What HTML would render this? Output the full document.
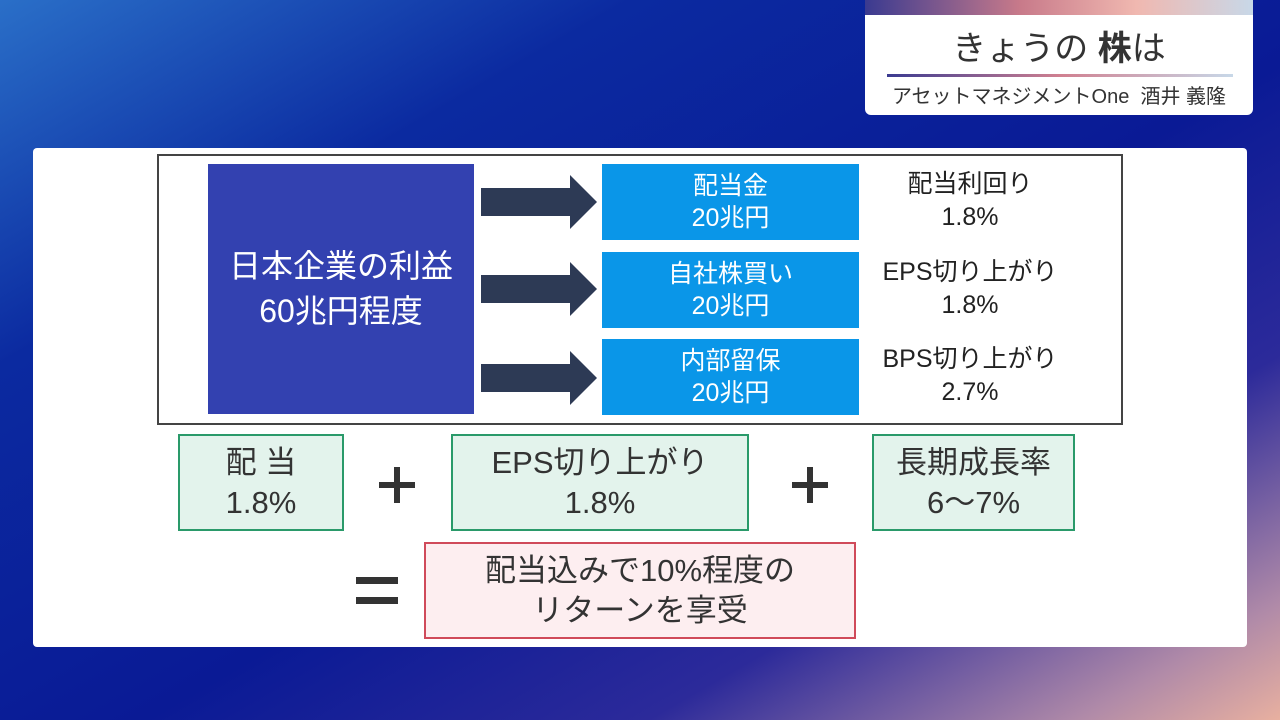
<!DOCTYPE html>
<html><head><meta charset="utf-8"><style>
*{margin:0;padding:0;box-sizing:border-box}
body{width:1280px;height:720px;overflow:hidden;position:relative;font-family:"Liberation Sans","Noto Sans CJK JP",sans-serif;
background:linear-gradient(150deg,#2a6fc8 0%,#0b2aa0 25%,#0a1a95 55%,#2c2a9a 75%,#b08aa8 92%,#e8b0a0 100%);}
.abs{position:absolute}
.card{left:865px;top:0;width:388px;height:115px;background:#fff;border-radius:0 0 6px 6px;overflow:hidden}
.strip{left:0;top:0;width:100%;height:15px;background:linear-gradient(90deg,#3a3a90,#c87a8a 40%,#f0b8b0 70%,#c8d8e8)}
.panel{left:33px;top:148px;width:1214px;height:499px;background:#fff;border-radius:4px}
.c{display:flex;align-items:center;justify-content:center;text-align:center;flex-direction:column}
.lb{left:602px;width:257px;height:76px;background:#0a96e8;color:#fff;font-size:25px;line-height:32px}
.rt{left:880px;width:180px;color:#222;font-size:25px;line-height:33px}
.gb{top:434px;height:97px;background:#e3f3ec;border:2px solid #2a9a6a;color:#333;font-size:31px;line-height:40px}
.arrow{left:481px;width:117px;height:54px}
.ph{width:36px;height:6px;background:#333}
.pv{width:6px;height:36px;background:#333}
</style></head><body>
<div class="abs card">
 <div class="abs strip"></div>
 <div class="abs" style="left:0;width:388px;top:27px;text-align:center;font-size:34px;color:#333;line-height:44px">きょうの <b>株</b>は</div>
 <div class="abs" style="left:22px;top:74px;width:346px;height:3px;background:linear-gradient(90deg,#3a3a90,#d08090 50%,#c8d8e8)"></div>
 <div class="abs" style="left:0;width:388px;top:83px;text-align:center;font-size:20px;color:#333;line-height:28px">アセットマネジメントOne&nbsp;&nbsp;酒井 義隆</div>
</div>
<div class="abs panel"></div>
<div class="abs" style="left:157px;top:154px;width:966px;height:271px;border:2px solid #444"></div>
<div class="abs c" style="left:208px;top:164px;width:266px;height:250px;background:#3341b0;color:#fff;font-size:32px;line-height:45px">日本企業の利益<br>60兆円程度</div>
<svg class="abs arrow" style="top:175px" viewBox="0 0 117 54"><polygon points="0,13 89,13 89,0 116,27 89,54 89,41 0,41" fill="#2d3a55"/></svg>
<svg class="abs arrow" style="top:262px" viewBox="0 0 117 54"><polygon points="0,13 89,13 89,0 116,27 89,54 89,41 0,41" fill="#2d3a55"/></svg>
<svg class="abs arrow" style="top:351px" viewBox="0 0 117 54"><polygon points="0,13 89,13 89,0 116,27 89,54 89,41 0,41" fill="#2d3a55"/></svg>
<div class="abs c lb" style="top:164px">配当金<br>20兆円</div>
<div class="abs c lb" style="top:252px">自社株買い<br>20兆円</div>
<div class="abs c lb" style="top:339px">内部留保<br>20兆円</div>
<div class="abs c rt" style="top:168px">配当利回り<br>1.8%</div>
<div class="abs c rt" style="top:256px">EPS切り上がり<br>1.8%</div>
<div class="abs c rt" style="top:343px">BPS切り上がり<br>2.7%</div>
<div class="abs c gb" style="left:178px;width:166px">配 当<br>1.8%</div>
<div class="abs c gb" style="left:451px;width:298px">EPS切り上がり<br>1.8%</div>
<div class="abs c gb" style="left:872px;width:203px">長期成長率<br>6〜7%</div>
<div class="abs ph" style="left:379px;top:482px"></div><div class="abs pv" style="left:394px;top:467px"></div>
<div class="abs ph" style="left:792px;top:482px"></div><div class="abs pv" style="left:807px;top:467px"></div>
<div class="abs" style="left:356px;top:577px;width:42px;height:7px;background:#333"></div>
<div class="abs" style="left:356px;top:597px;width:42px;height:7px;background:#333"></div>
<div class="abs c" style="left:424px;top:542px;width:432px;height:97px;background:#fdeef0;border:2px solid #d04a5a;color:#333;font-size:31px;line-height:40px">配当込みで10%程度の<br>リターンを享受</div>
</body></html>
